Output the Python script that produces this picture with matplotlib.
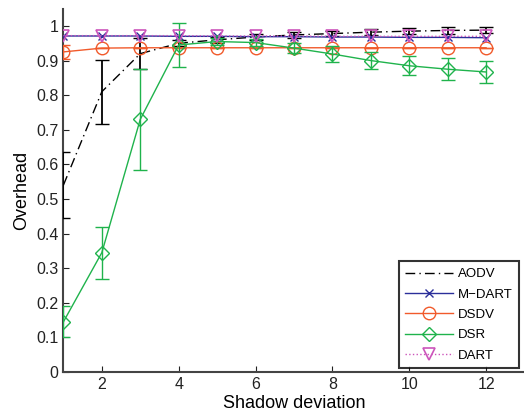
import matplotlib
matplotlib.use("Agg")
import matplotlib.pyplot as plt
from matplotlib.lines import Line2D

plt.rcParams['font.family'] = ['Liberation Sans', 'DejaVu Sans']

x = [1, 2, 3, 4, 5, 6, 7, 8, 9, 10, 11, 12]
aodv = [0.54, 0.81, 0.92, 0.95, 0.96, 0.968, 0.974, 0.978, 0.982, 0.985, 0.987, 0.988]
aodv_err = [0.095, 0.093, 0.045, 0.008, 0.008, 0.008, 0.008, 0.008, 0.009, 0.009, 0.009, 0.009]
mdart = [0.971, 0.971, 0.971, 0.970, 0.970, 0.969, 0.969, 0.968, 0.968, 0.967, 0.967, 0.966]
dsdv = [0.925, 0.936, 0.937, 0.937, 0.937, 0.937, 0.937, 0.937, 0.937, 0.937, 0.937, 0.937]
dsdv_err = [0.02, 0, 0, 0, 0, 0, 0, 0, 0, 0, 0, 0]
dsr = [0.145, 0.345, 0.73, 0.945, 0.955, 0.952, 0.936, 0.919, 0.90, 0.885, 0.875, 0.867]
dsr_err = [0.045, 0.075, 0.145, 0.063, 0.01, 0.01, 0.015, 0.022, 0.025, 0.028, 0.031, 0.031]
dart = [0.972, 0.972, 0.972, 0.972, 0.971, 0.971, 0.971, 0.970, 0.970, 0.970, 0.970, 0.970]
labels = ['AODV', 'M\u2212DART', 'DSDV', 'DSR', 'DART']
xticks = [2, 4, 6, 8, 10, 12]
yticks = [0, 0.1, 0.2, 0.3, 0.4, 0.5, 0.6, 0.7, 0.8, 0.9, 1]

c_aodv = 'black'
c_mdart = '#2b2f9a'
c_dsdv = '#f15a2b'
c_dsr = '#1fb34c'
c_dart = '#cc55bb'

fig = plt.figure(figsize=(5.24, 4.12), dpi=100)
ax = fig.add_axes([0.121, 0.097, 0.88, 0.882])

dashdot = (0, (7, 3, 1, 3))
ax.errorbar(x, aodv, yerr=aodv_err, color=c_aodv, ls=dashdot, lw=1.0, capsize=5, elinewidth=1.3, zorder=3)
ax.plot(x, mdart, color=c_mdart, ls='-', lw=1.0, marker='x', ms=6, mew=1.0, zorder=4)
ax.errorbar(x, dsdv, yerr=dsdv_err, color=c_dsdv, ls='-', lw=1.0, marker='o', ms=9, mfc='none', mew=1.0, capsize=5, zorder=4)
ax.errorbar(x, dsr, yerr=dsr_err, color=c_dsr, ls='-', lw=1.0, marker='D', ms=7, mfc='none', mew=1.0, capsize=5, zorder=5)
ax.plot(x, dart, color=c_dart, ls=':', lw=1.0, marker='v', ms=9, mfc='none', mew=1.2, zorder=6)

ax.set_xlim(1, 13)
ax.set_ylim(0, 1.05)
ax.set_xticks(xticks)
ax.set_yticks(yticks)
ax.set_yticklabels(['0', '0.1', '0.2', '0.3', '0.4', '0.5', '0.6', '0.7', '0.8', '0.9', '1'])
ax.tick_params(direction='in', labelsize=11.5, length=4, width=0.8, colors='#222222')
ax.spines['top'].set_visible(False)
ax.spines['right'].set_visible(False)
for s in ['left', 'bottom']:
    ax.spines[s].set_color('#444444')
    ax.spines[s].set_linewidth(1.5)
ax.set_xlabel('Shadow deviation', fontsize=13, labelpad=2)
ax.set_ylabel('Overhead', fontsize=13, labelpad=4)

handles = [
    Line2D([], [], color=c_aodv, ls=dashdot, lw=1.0),
    Line2D([], [], color=c_mdart, ls='-', lw=1.0, marker='x', ms=6, mew=1.0),
    Line2D([], [], color=c_dsdv, ls='-', lw=1.0, marker='o', ms=9, mfc='none', mew=1.0),
    Line2D([], [], color=c_dsr, ls='-', lw=1.0, marker='D', ms=7, mfc='none', mew=1.0),
    Line2D([], [], color=c_dart, ls=':', lw=1.0, marker='v', ms=9, mfc='none', mew=1.2),
]
leg = ax.legend(handles, labels, loc='lower right', bbox_to_anchor=(0.989, 0.01), fontsize=9.5, frameon=True,
                fancybox=False, edgecolor='black', handlelength=3.6, borderpad=0.5, labelspacing=0.62,
                handletextpad=0.4, borderaxespad=0)
leg.get_frame().set_linewidth(1.5)

fig.savefig('out.png', dpi=100)
